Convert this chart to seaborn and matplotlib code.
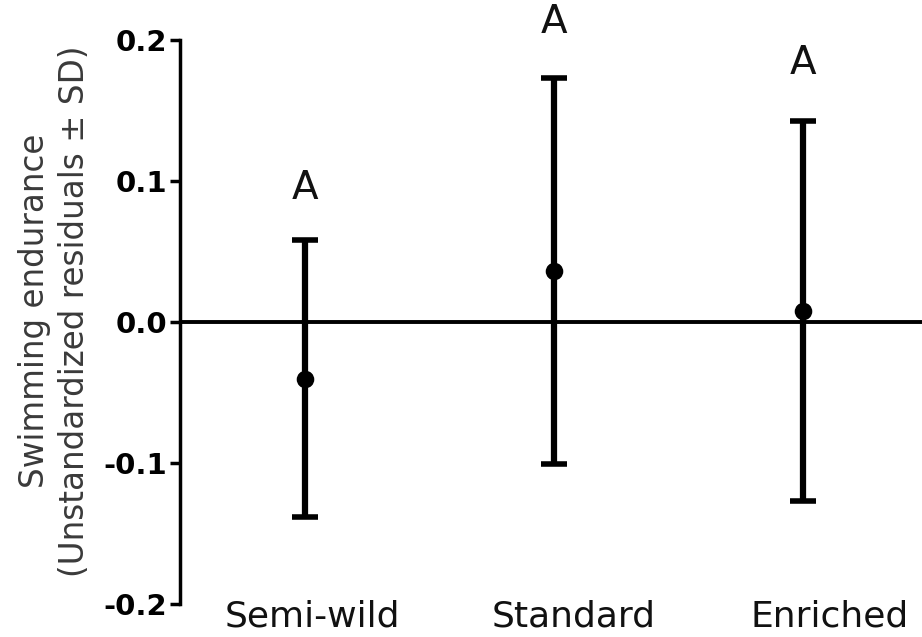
import matplotlib
matplotlib.use('Agg')
import matplotlib.pyplot as plt
import matplotlib.transforms as mtransforms
import seaborn as sns
import pandas as pd

groups = ['Semi-wild', 'Standard', 'Enriched']
means = [-0.040, 0.036, 0.008]
sds = [0.098, 0.137, 0.135]
letters = ['A', 'A', 'A']
letter_y = [0.095, 0.213, 0.184]
yticks = [-0.2, -0.1, 0.0, 0.1, 0.2]

sns.set_style('ticks')
plt.rcParams['font.family'] = ['DejaVu Sans']

df = pd.DataFrame({'group': groups, 'mean': means, 'sd': sds})

fig = plt.figure(figsize=(9.22, 6.37), dpi=100)
ax = fig.add_axes([0.1952, 0.0518, 0.805, 0.885])

ax.axhline(0, color='black', lw=2.8, zorder=1)
ax.errorbar(df['group'], df['mean'], yerr=df['sd'], fmt='none', ecolor='black',
            elinewidth=4.5, capsize=9.5, capthick=4, zorder=2)
sns.scatterplot(data=df, x='group', y='mean', color='black', s=160,
                edgecolor='black', linewidth=0, ax=ax, zorder=3)

for i, (lab, ly) in enumerate(zip(letters, letter_y)):
    ax.text(i, ly, lab, ha='center', va='center', fontsize=28, color='#111111', clip_on=False)

ax.set_ylim(-0.2, 0.2)
ax.set_xlim(-0.5, 2.48)
ax.set_yticks(yticks)
ax.set_yticklabels([f'{t:.1f}' for t in yticks], fontsize=21, fontweight='bold')
ax.tick_params(axis='y', length=7, width=2.5, pad=2, color='black', labelcolor='black')
ax.tick_params(axis='x', length=0, pad=-3, labelsize=26, labelcolor='#111111')

# the category names sit a little right of their points in the original
for lbl, dx in zip(ax.get_xticklabels(), [8, 20, 27]):
    lbl.set_transform(lbl.get_transform() + mtransforms.ScaledTranslation(dx / 100, 0, fig.dpi_scale_trans))

sns.despine(ax=ax, bottom=True)
ax.spines['left'].set_linewidth(2.5)
ax.spines['left'].set_color('black')

ax.set_xlabel('')
ax.set_ylabel('Swimming endurance\n(Unstandardized residuals \u00b1 SD)',
              fontsize=23.5, color='#3a3a3a', linespacing=1.25)
ax.yaxis.set_label_coords(-0.12, 0.52)

fig.savefig('out.png', dpi=100)
